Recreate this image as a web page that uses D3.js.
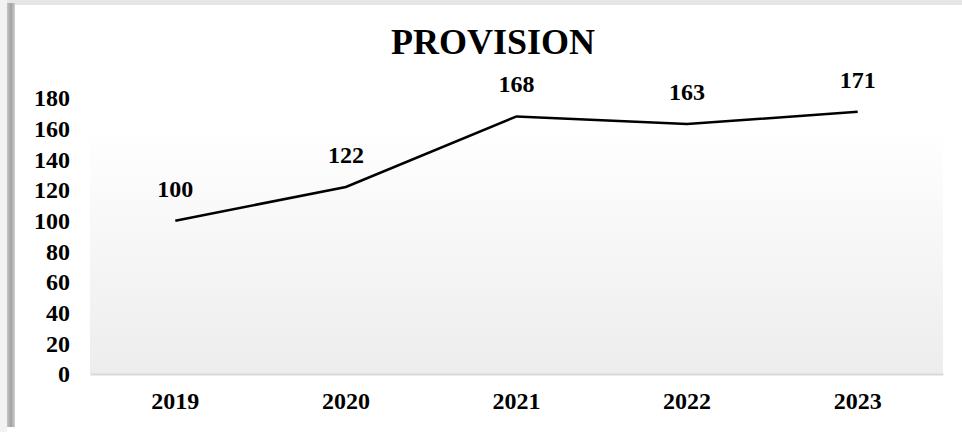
<!DOCTYPE html>
<html><head><meta charset="utf-8">
<script src="https://cdn.jsdelivr.net/npm/d3@7"></script>
<style>html,body{margin:0;padding:0;background:#fff;}svg{display:block;}</style>
</head><body>
<script>
const title = "PROVISION";
const years = ["2019","2020","2021","2022","2023"];
const values = [100,122,168,163,171];
const yTicks = [0,20,40,60,80,100,120,140,160,180];

const W = 962, H = 432;
const svg = d3.select("body").append("svg").attr("width", W).attr("height", H);
const defs = svg.append("defs");
const g1 = defs.append("linearGradient").attr("id","bg").attr("x1",0).attr("y1",0).attr("x2",0).attr("y2",1);
g1.append("stop").attr("offset","0%").attr("stop-color","#ffffff");
g1.append("stop").attr("offset","15%").attr("stop-color","#ffffff");
g1.append("stop").attr("offset","100%").attr("stop-color","#ededed");
const g2 = defs.append("linearGradient").attr("id","lb").attr("x1",0).attr("y1",0).attr("x2",1).attr("y2",0);
g2.append("stop").attr("offset","0%").attr("stop-color","#c4c4c4");
g2.append("stop").attr("offset","50%").attr("stop-color","#a2a2a2");
g2.append("stop").attr("offset","100%").attr("stop-color","#cfcfcf");

// frame decorations
svg.append("rect").attr("x",0).attr("y",0).attr("width",7).attr("height",H).attr("fill","#f2f2f2");
svg.append("rect").attr("x",7).attr("y",0).attr("width",W-7).attr("height",5).attr("fill","#e6e6e6");
svg.append("rect").attr("x",7).attr("y",3).attr("width",8).attr("height",424).attr("fill","url(#lb)");

const plot = {left: 90, right: 943, top: 84, bottom: 374};
const x = d3.scaleBand().domain(years).range([plot.left, plot.right]);
const y = d3.scaleLinear().domain([0,180]).range([plot.bottom, 98]);

svg.append("rect").attr("x",plot.left).attr("y",plot.top)
  .attr("width",plot.right-plot.left).attr("height",plot.bottom-plot.top).attr("fill","url(#bg)");

const font = "'Liberation Serif','Times New Roman',serif";
const fs = 24;

// x axis
const xAxis = d3.axisBottom(x).tickSize(0).tickPadding(18);
const xa = svg.append("g").attr("transform",`translate(0,${plot.bottom})`).call(xAxis);
xa.select(".domain").attr("stroke","#d9d9d9").attr("stroke-width",2);
xa.selectAll("text").attr("font-family",font).attr("font-size",fs).attr("font-weight","bold").attr("fill","#000");

// y axis (labels only)
const yAxis = d3.axisLeft(y).tickValues(yTicks).tickSize(0).tickPadding(0);
const ya = svg.append("g").attr("transform",`translate(70,0)`).call(yAxis);
ya.select(".domain").remove();
ya.selectAll("text").attr("font-family",font).attr("font-size",fs).attr("font-weight","bold").attr("fill","#000");

// line
const line = d3.line().x((d,i)=>x(years[i])+x.bandwidth()/2).y(d=>y(d));
svg.append("path").datum(values).attr("d",line).attr("fill","none").attr("stroke","#000").attr("stroke-width",2.5);

// data labels
svg.selectAll(".lbl").data(values).enter().append("text")
  .attr("x",(d,i)=>x(years[i])+x.bandwidth()/2)
  .attr("y",d=>y(d)-24)
  .attr("text-anchor","middle")
  .attr("font-family",font).attr("font-size",fs).attr("font-weight","bold").attr("fill","#000")
  .text(d=>d);

// title
svg.append("text").attr("x",493).attr("y",54).attr("text-anchor","middle")
  .attr("font-family",font).attr("font-size",36).attr("font-weight","bold").attr("fill","#000").text(title);
</script>
</body></html>
